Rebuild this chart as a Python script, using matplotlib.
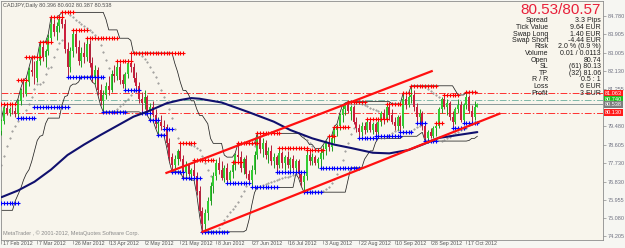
import numpy as np
import pandas as pd
import matplotlib
matplotlib.use('Agg')
import matplotlib.pyplot as plt
import matplotlib.transforms as mtransforms

plt.rcParams['font.family'] = ['Liberation Sans', 'DejaVu Sans']

# --- price data (CADJPY daily, bar 0 = 17 Feb 2012) ---
# bars before the visible range, only used to warm up the channel / SAR
pre_high = [77.3, 76.9, 76.6, 76.4, 76.3, 76.3, 76.6, 76.9,
            77.2, 77.6, 77.9, 78.2, 78.5, 79.0, 79.5, 79.6]
pre_low = [76.6, 76.3, 76.0, 75.8, 75.6, 75.45, 75.9, 76.2,
           76.5, 76.9, 77.2, 77.4, 77.8, 78.3, 78.8, 79.0]

opens = [
    79.25, 79.75, 80.35, 80.10, 80.30, 80.20, 80.05, 80.70, 81.20, 81.05,
    81.60, 82.20, 82.10, 81.80, 82.60, 83.30, 82.80, 83.10, 83.70, 84.40,
    84.00, 84.30, 84.60, 84.40, 83.20, 82.30, 83.10, 83.90, 83.30, 82.60,
    83.00, 82.80, 83.40, 82.50, 81.80, 82.20, 81.20, 80.70, 81.00, 81.40,
    81.20, 82.00, 81.90, 82.30, 81.70, 81.50, 82.00, 82.50, 82.30, 81.80,
    81.40, 80.80, 80.60, 80.90, 80.20, 80.40, 80.00, 79.60, 79.70, 79.50,
    79.45, 78.70, 78.00, 77.60, 77.90, 78.30, 77.90, 77.30, 77.60, 77.20,
    77.40, 77.10, 76.40, 75.40, 74.80, 75.30, 75.90, 76.60, 77.10, 77.70,
    77.40, 77.00, 77.50, 76.90, 77.30, 77.60, 78.10, 78.00, 77.50, 77.90,
    77.20, 76.90, 77.40, 78.10, 78.90, 78.40, 78.70, 78.10, 78.30, 77.80,
    78.00, 77.60, 78.20, 77.70, 78.00, 77.60, 77.90, 77.50, 77.80, 77.20,
    76.80, 77.10, 78.10, 77.80, 78.00, 77.70, 77.90, 78.20, 78.40, 78.70,
    78.50, 78.90, 79.30, 79.50, 80.00, 80.30, 80.50, 80.20, 80.40, 79.70,
    79.40, 79.20, 79.50, 79.30, 79.70, 79.30, 79.60, 79.20, 79.70, 80.10,
    79.80, 80.40, 80.00, 79.70, 79.50, 79.90, 79.50, 80.80, 80.50, 80.90,
    81.00, 80.40, 79.90, 80.10, 79.50, 78.90, 79.20, 79.00, 79.40, 79.50,
    80.30, 80.80, 80.40, 80.60, 79.90, 79.70, 80.30, 80.50, 79.80, 80.50,
    80.90, 80.20, 79.90, 80.396]
highs = [
    79.85, 80.45, 80.53, 80.40, 80.50, 80.40, 80.80, 81.30, 81.70, 81.80,
    82.30, 82.80, 82.60, 82.70, 83.50, 83.52, 83.20, 83.90, 84.70, 84.60,
    84.50, 84.80, 84.94, 84.60, 83.50, 83.30, 84.10, 84.10, 83.60, 83.30,
    83.50, 83.70, 83.60, 82.80, 82.40, 82.30, 81.50, 81.20, 81.60, 81.90,
    82.20, 82.40, 82.60, 82.50, 82.00, 82.10, 82.70, 82.99, 82.50, 82.10,
    81.60, 81.10, 81.20, 81.00, 80.60, 80.70, 80.30, 79.90, 80.00, 79.80,
    79.60, 78.90, 78.20, 78.10, 78.40, 78.66, 78.10, 77.80, 77.70, 77.50,
    77.86, 77.30, 76.60, 75.60, 75.50, 76.10, 76.80, 77.30, 77.90, 78.00,
    77.80, 77.60, 77.70, 77.40, 77.78, 78.20, 78.66, 78.30, 78.00, 78.10,
    77.40, 77.60, 78.30, 79.14, 79.00, 78.90, 78.80, 78.50, 78.60, 78.20,
    78.10, 78.42, 78.30, 78.10, 78.30, 78.00, 78.10, 77.90, 77.90, 77.30,
    77.30, 78.33, 78.30, 78.20, 78.10, 78.00, 78.30, 78.60, 78.80, 79.00,
    79.00, 79.46, 79.60, 80.10, 80.50, 80.60, 80.66, 80.50, 80.50, 79.90,
    79.60, 79.70, 79.70, 79.81, 79.80, 79.70, 79.70, 79.80, 80.20, 80.30,
    80.55, 80.50, 80.30, 79.90, 80.00, 80.00, 81.06, 81.00, 81.00, 81.42,
    81.20, 80.60, 80.30, 80.20, 79.70, 79.30, 79.40, 79.50, 79.65, 80.40,
    80.90, 80.98, 80.80, 80.70, 80.20, 80.40, 80.80, 80.70, 80.60, 81.11,
    81.00, 80.50, 80.70, 80.602]
lows = [
    79.05, 79.60, 80.00, 79.95, 80.05, 79.90, 79.87, 80.50, 80.90, 80.95,
    81.40, 81.90, 81.50, 81.60, 82.40, 82.60, 82.30, 82.90, 83.50, 83.80,
    83.60, 84.00, 84.20, 83.00, 81.84, 82.10, 82.80, 83.00, 82.40, 82.30,
    82.50, 82.60, 82.30, 81.60, 81.50, 81.00, 80.50, 80.17, 80.80, 81.00,
    81.10, 81.60, 81.70, 81.50, 81.30, 81.22, 81.80, 82.10, 81.60, 81.20,
    80.60, 80.10, 80.30, 80.00, 79.78, 79.90, 79.40, 79.06, 79.30, 79.33,
    78.50, 77.80, 77.30, 77.40, 77.60, 77.80, 77.00, 77.10, 77.10, 76.90,
    77.00, 76.20, 75.20, 74.42, 74.50, 75.00, 75.70, 76.30, 76.90, 77.20,
    76.90, 76.80, 76.75, 76.80, 77.00, 77.40, 77.80, 77.30, 77.20, 77.00,
    76.70, 76.55, 77.20, 77.90, 78.20, 78.00, 77.90, 77.70, 77.60, 77.50,
    77.30, 77.50, 77.50, 77.40, 77.50, 77.30, 77.40, 77.20, 77.00, 76.60,
    76.32, 76.90, 77.60, 77.60, 77.60, 77.50, 77.49, 77.90, 78.10, 78.30,
    78.30, 78.70, 79.00, 79.30, 79.70, 80.00, 80.10, 79.80, 79.60, 79.20,
    78.90, 79.00, 79.10, 79.20, 79.20, 79.10, 79.00, 79.10, 79.50, 79.60,
    79.70, 79.80, 79.60, 79.30, 79.30, 79.19, 79.40, 80.30, 80.40, 80.60,
    80.20, 79.62, 79.70, 79.30, 78.77, 78.80, 78.90, 78.90, 79.00, 79.40,
    80.10, 80.30, 80.00, 79.80, 79.38, 79.60, 80.10, 79.70, 79.65, 80.30,
    80.10, 79.70, 79.80, 80.387]
closes = [
    79.75, 80.35, 80.10, 80.30, 80.20, 80.05, 80.70, 81.20, 81.05, 81.60,
    82.20, 82.10, 81.80, 82.60, 83.30, 82.80, 83.10, 83.70, 84.40, 84.00,
    84.30, 84.60, 84.40, 83.20, 82.30, 83.10, 83.90, 83.30, 82.60, 83.00,
    82.80, 83.40, 82.50, 81.80, 82.20, 81.20, 80.70, 81.00, 81.40, 81.20,
    82.00, 81.90, 82.30, 81.70, 81.50, 82.00, 82.50, 82.30, 81.80, 81.40,
    80.80, 80.60, 80.90, 80.20, 80.40, 80.00, 79.60, 79.70, 79.50, 79.45,
    78.70, 78.00, 77.60, 77.90, 78.30, 77.90, 77.30, 77.60, 77.20, 77.40,
    77.10, 76.40, 75.40, 74.80, 75.30, 75.90, 76.60, 77.10, 77.70, 77.40,
    77.00, 77.50, 76.90, 77.30, 77.60, 78.10, 78.00, 77.50, 77.90, 77.20,
    76.90, 77.40, 78.10, 78.90, 78.40, 78.70, 78.10, 78.30, 77.80, 78.00,
    77.60, 78.20, 77.70, 78.00, 77.60, 77.90, 77.50, 77.80, 77.20, 76.80,
    77.10, 78.10, 77.80, 78.00, 77.70, 77.90, 78.20, 78.40, 78.70, 78.50,
    78.90, 79.30, 79.50, 80.00, 80.30, 80.50, 80.20, 80.40, 79.70, 79.40,
    79.20, 79.50, 79.30, 79.70, 79.30, 79.60, 79.20, 79.70, 80.10, 79.80,
    80.40, 80.00, 79.70, 79.50, 79.90, 79.50, 80.80, 80.50, 80.90, 81.00,
    80.40, 79.90, 80.10, 79.50, 78.90, 79.20, 79.00, 79.40, 79.50, 80.30,
    80.80, 80.40, 80.60, 79.90, 79.70, 80.30, 80.50, 79.80, 80.50, 80.90,
    80.20, 79.90, 80.40, 80.538]

# long moving average at a few bars
sma_bars = [0, 6, 12, 18, 24, 30, 36, 42, 48, 53, 60, 65, 69, 72,
            80, 90, 99, 105, 113, 121, 127, 135, 141, 148, 154, 159, 166, 173]
sma_vals = [76.08, 76.40, 76.82, 77.40, 78.10, 78.60, 79.06, 79.50, 79.94,
            80.18, 80.58, 80.74, 80.83, 80.80, 80.62, 80.15, 79.70, 79.30,
            78.90, 78.60, 78.44, 78.21, 78.18, 78.34, 78.65, 78.92, 79.06, 79.20]

# fractal resistance (red) / support (blue) levels: start bar, end bar, price
red_start = [0, 6, 9, 14, 18, 22, 26, 31, 42, 47, 65, 70, 84, 86, 93, 101,
             111, 119, 121, 126, 133, 140, 146, 149, 158, 161, 169]
red_end = [5, 9, 14, 18, 22, 26, 31, 42, 47, 66, 70, 77, 87, 93, 101, 111,
           117, 121, 126, 132, 140, 145, 148, 158, 160, 166, 172]
red_level = [80.53, 81.70, 82.80, 83.52, 84.70, 84.94, 84.10, 83.70, 82.60,
             82.99, 78.66, 77.86, 77.78, 78.66, 79.14, 78.42, 78.33, 79.00,
             79.46, 80.66, 79.81, 80.55, 81.06, 81.42, 79.65, 80.98, 81.11]
blue_start = [0, 6, 12, 24, 37, 45, 51, 54, 57, 59, 62, 66, 73, 82, 91, 100,
              110, 116, 130, 136, 145, 151, 154, 164, 168]
blue_end = [6, 12, 24, 37, 45, 50, 54, 57, 59, 62, 66, 72, 82, 90, 100, 110,
            116, 130, 136, 145, 149, 154, 158, 168, 173]
blue_level = [75.80, 79.87, 80.40, 81.84, 80.17, 81.22, 80.10, 79.78, 79.06,
              79.33, 77.30, 77.00, 74.42, 76.75, 76.55, 77.30, 76.32, 77.49,
              78.90, 79.00, 79.19, 79.62, 78.77, 79.38, 79.65]

# trend channel (bar, price) pairs
channel_upper = [(59.6, 77.225), (156.8, 82.14)]
channel_lower = [(72.7, 74.40), (181.4, 80.10)]

# order lines
tp_price, open_price, bid_price, sl_price = 81.063, 80.740, 80.538, 80.130

date_bars = [0, 13, 26, 39, 52, 65, 78, 91, 104, 117, 130, 143, 156, 169]
date_labels = ['17 Feb 2012', '7 Mar 2012', '26 Mar 2012', '13 Apr 2012',
               '2 May 2012', '21 May 2012', '8 Jun 2012', '27 Jun 2012',
               '16 Jul 2012', '3 Aug 2012', '22 Aug 2012', '10 Sep 2012',
               '28 Sep 2012', '17 Oct 2012']
price_ticks = [84.780, 83.905, 83.005, 82.130, 81.255, 79.480, 78.605,
               77.730, 76.830, 75.955, 75.080, 74.205]

info_names = ['Spread', 'Tick Value', 'Swap Long', 'Swap Short', 'Risk',
              'Volume', 'Open', 'SL', 'TP', 'R / R', 'Loss', 'Profit']
info_values = ['3.3 Pips', '9.64 EUR', '1.40 EUR', '-4.44 EUR',
               '2.0 % (0.9 %)', '0.01 / 0.0113', '80.74', '(61) 80.13',
               '(32) 81.06', '0.5 : 1', '6 EUR', '3 EUR']


def psar(high, low, step=0.02, max_step=0.2):
    """Plain parabolic SAR."""
    n = len(high)
    sar = np.zeros(n)
    up = True
    af = step
    ep = high[0]
    sar[0] = low[0]
    for i in range(1, n):
        s = sar[i - 1] + af * (ep - sar[i - 1])
        if up:
            s = min(s, low[i - 1], low[max(i - 2, 0)])
            if low[i] < s:
                up = False
                s = ep
                ep = low[i]
                af = step
            elif high[i] > ep:
                ep = high[i]
                af = min(af + step, max_step)
        else:
            s = max(s, high[i - 1], high[max(i - 2, 0)])
            if high[i] > s:
                up = True
                s = ep
                ep = high[i]
                af = step
            elif low[i] < ep:
                ep = low[i]
                af = min(af + step, max_step)
        sar[i] = s
    return sar


def px(x, y):
    """pixel position (from top-left) -> figure coords"""
    return x / 625, 1 - y / 248


fig = plt.figure(figsize=(6.25, 2.48), dpi=100)
fig.patch.set_facecolor('#f6f6f2')
ax = fig.add_axes([1 / 625, 8 / 248, 602 / 625, 239 / 248])
ax.set_facecolor('#f8f5ec')

bars = np.arange(len(closes))
o = np.array(opens)
h = np.array(highs)
l = np.array(lows)
c = np.array(closes)

# channel + SAR computed over the warm-up bars as well
all_x = np.arange(-len(pre_high), len(highs))
all_h = pd.Series(pre_high + highs)
all_l = pd.Series(pre_low + lows)
upper = all_h.rolling(16).max()
lower = all_l.rolling(16).min()
sar = psar(all_h.values, all_l.values)

ax.plot(all_x, upper, color='#222222', lw=0.55, zorder=2)
ax.plot(all_x, lower, color='#222222', lw=0.55, zorder=2)
ax.plot(all_x, sar, linestyle='none', marker='.', ms=0.9, color='#858585',
        zorder=2)

# candles
bull = c >= o
wick_col = np.where(bull, '#1f9a1f', '#b0203a')
body_col = np.where(bull, '#33cc33', '#cc1f3c')
ax.vlines(bars, l, h, colors=wick_col, lw=0.7, zorder=3)
ax.bar(bars, np.maximum(np.abs(c - o), 0.03), bottom=np.minimum(o, c),
       width=0.7, color=body_col, linewidth=0, zorder=4)

# fractal levels
for s, e, lev in zip(red_start, red_end, red_level):
    xs = np.arange(s, e + 1)
    ax.plot(xs, [lev] * len(xs), linestyle='none', marker='+', ms=2.6,
            mew=0.8, color='#ff0000', zorder=5)
for s, e, lev in zip(blue_start, blue_end, blue_level):
    xs = np.arange(s, e + 1)
    ax.plot(xs, [lev] * len(xs), linestyle='none', marker='+', ms=2.6,
            mew=0.8, color='#0000ff', zorder=5)

# moving average
ax.plot(sma_bars, sma_vals, color='#10106e', lw=1.5, zorder=6,
        solid_capstyle='round')

# trend channel
for line in (channel_upper, channel_lower):
    ax.plot([line[0][0], line[1][0]], [line[0][1], line[1][1]],
            color='#ff1010', lw=1.6, zorder=7, solid_capstyle='butt')

# order lines
dashdot = (0, (7, 2, 1.5, 2))
ax.axhline(tp_price, color='#ff3030', lw=0.7, linestyle=dashdot, zorder=1)
ax.axhline(open_price, color='#7fb8a8', lw=0.7, linestyle=dashdot, zorder=1)
ax.axhline(bid_price, color='#8a9a9a', lw=0.7, zorder=1)
ax.axhline(sl_price, color='#ff3030', lw=0.7, linestyle=dashdot, zorder=1)

ax.set_xlim(-0.18, 218.7)
ax.set_ylim(74.027, 85.485)

# axes look
for sp in ax.spines.values():
    sp.set_color('#8c8c8c')
    sp.set_linewidth(0.6)
ax.yaxis.tick_right()
ax.set_yticks(price_ticks)
ax.set_yticklabels(['%.3f' % p for p in price_ticks])
ax.tick_params(axis='y', length=2, width=0.5, color='#8c8c8c', pad=1.2,
               labelsize=4, labelcolor='#6e7080')
ax.set_xticks(date_bars)
ax.set_xticklabels(date_labels)
ax.tick_params(axis='x', length=3, width=0.5, color='#8c8c8c', pad=-0.5,
               labelsize=3.8, labelcolor='#555555')
shift = mtransforms.ScaledTranslation(1.5 / 100, 0, fig.dpi_scale_trans)
for lab in ax.get_xticklabels():
    lab.set_horizontalalignment('left')
    lab.set_verticalalignment('center')
    lab.set_transform(lab.get_transform() + shift)

# price boxes on the right scale
trans = mtransforms.blended_transform_factory(ax.transAxes, ax.transData)
for price, fc in [(tp_price, '#ff1a1a'), (open_price, '#1fbf1f'),
                  (bid_price, '#7d7d7d'), (sl_price, '#ff1a1a')]:
    ax.text(1.0 + 2 / 602, price, '%.3f' % price, transform=trans,
            fontsize=4, color='white', ha='left', va='center', zorder=10,
            clip_on=False,
            bbox=dict(boxstyle='square,pad=0.2', fc=fc, ec='none'))

# texts
fig.text(*px(3, 5), 'CADJPY,Daily 80.396 80.602 80.387 80.538', fontsize=4,
         color='#505050', va='center', ha='left')
fig.text(*px(3, 233), 'MetaTrader , \u00a9 2001-2012, MetaQuotes Software Corp.',
         fontsize=4, color='#8a8a8a', va='center', ha='left')
fig.text(*px(601, 10), '80.53/80.57', fontsize=11, color='#e8203a',
         va='center', ha='right')
row_y = [20.7, 27.3, 34.0, 40.3, 47.0, 53.7, 60.3, 67.0, 73.3, 80.0, 86.7, 93.3]
for name, val, yy in zip(info_names, info_values, row_y):
    fig.text(*px(548, yy), name, fontsize=5, color='#1e1e1e', va='center',
             ha='right')
    fig.text(*px(601, yy), val, fontsize=5, color='#1e1e1e', va='center',
             ha='right')

fig.savefig('out.png', dpi=100, facecolor=fig.get_facecolor())
